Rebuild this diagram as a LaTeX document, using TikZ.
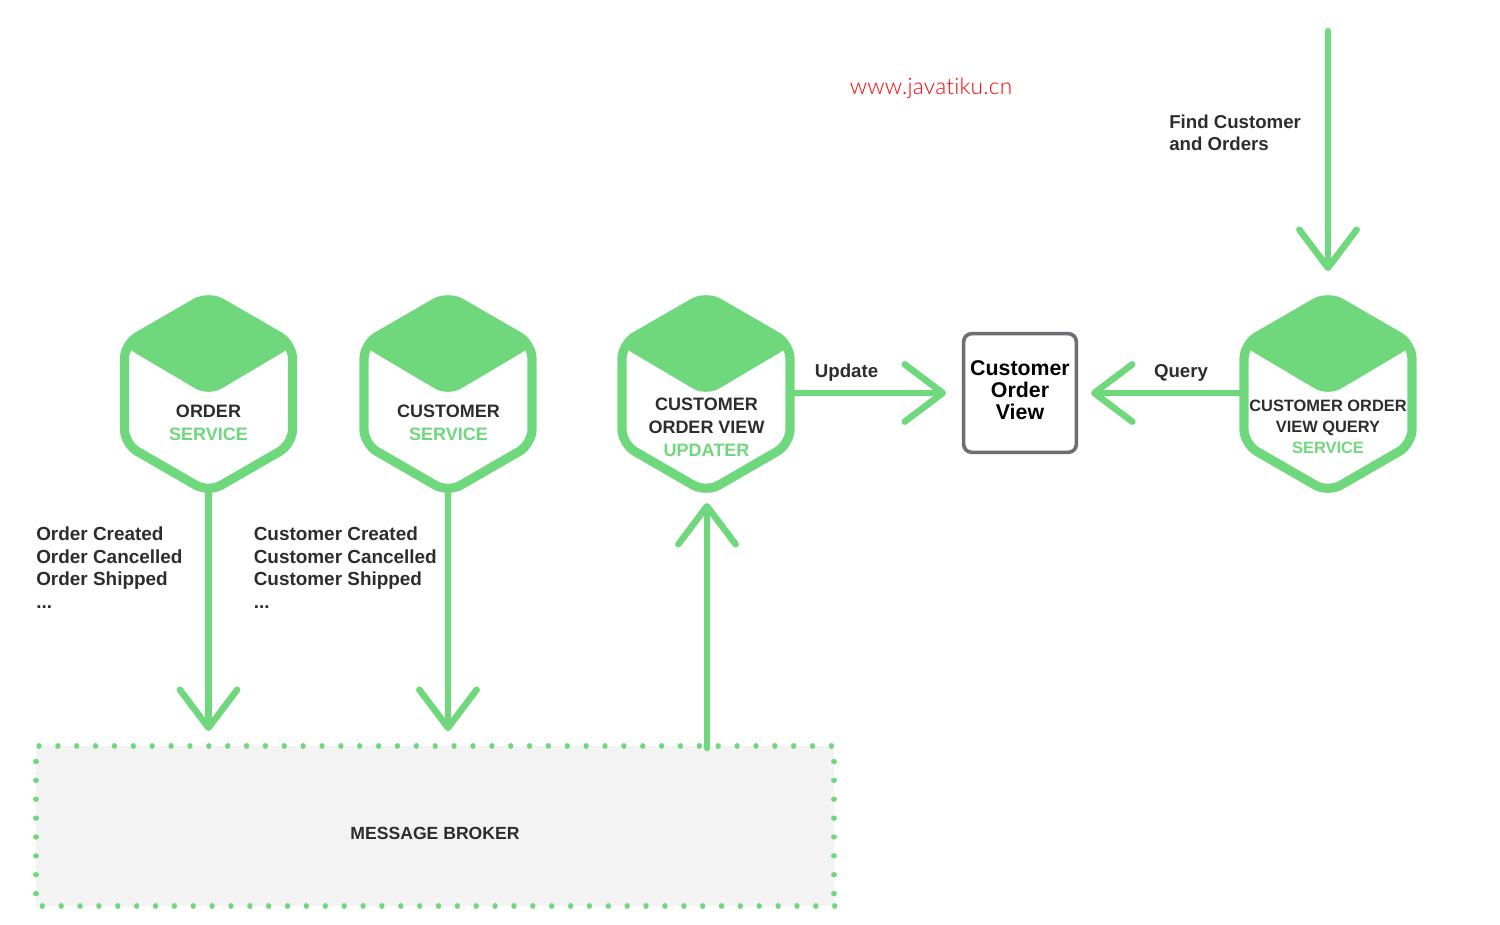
\documentclass[tikz,border=0pt]{standalone}
\usepackage{fontspec}
\setmainfont{Liberation Sans}
\newfontfamily\thinfont[UprightFont=* Light,Ligatures=NoCommon,LetterSpace=1.0]{Lato}
\usetikzlibrary{arrows.meta}
\definecolor{grn}{HTML}{6FD87C}
\definecolor{ink}{HTML}{2D2D2D}
\definecolor{wall}{HTML}{F3F3F3}
\definecolor{edgegray}{HTML}{6D6E71}
\tikzset{
  x=0.75pt,y=-0.75pt,
  flow/.style={draw=grn,line width=4.9pt,line cap=round,line join=round,
    -{Straight Barb[round,length=28.5pt,width=43pt,line width=4.9pt]}},
  hexline/.style={draw=grn,line width=6.9pt,rounded corners=11pt,line join=round},
  hextop/.style={fill=grn,draw=grn,line width=1pt,rounded corners=11pt},
  hexbox/.style={minimum width=126pt,minimum height=148pt,inner sep=0pt,outer sep=0pt},
  dark/.style={font=\bfseries\fontsize{13.5}{17}\selectfont,text=ink,align=center,inner sep=0pt},
  lab/.style={font=\bfseries\fontsize{14}{17}\selectfont,text=ink,align=left,inner sep=0pt,anchor=north west},
  dots/.style={grn,line width=4pt,line cap=round,dash pattern=on 0.01pt off 14.14pt},
}
\newcommand{\cubehex}[3]{%
  \node[hexbox] (#1) at (#2,#3) {};
  \begin{scope}[shift={(#2,#3)}]
    \draw[hexline] (0,-98.5)--(84,-50)--(84,50)--(0,98.5)--(-84,50)--(-84,-50)--cycle;
    \fill[hextop] (0,-101)--(87,-50)--(0,1.5)--(-87,-50)--cycle;
  \end{scope}}
\newcommand{\gr}[1]{\textcolor{grn}{#1}}
\begin{document}
\begin{tikzpicture}
\useasboundingbox (0,0) rectangle (1500,925);
% broker
\fill[wall] (36,746) rectangle (834,906);
\draw[dots] (39,746)--(834,746);
\draw[dots] (834,761.5)--(834,900);
\draw[dots] (42.3,906)--(836,906);
\draw[dots] (36,761.5)--(36,900);
\node[dark,font=\bfseries\fontsize{13.2}{16}\selectfont] (broker) at (435,833.5) {MESSAGE BROKER};
% hexagons
\cubehex{orderhex}{208.5}{394}
\cubehex{custhex}{448}{394}
\cubehex{updhex}{706}{394}
\cubehex{qryhex}{1328}{394}
\node[dark] (t1) at (208.5,423) {ORDER\\[0.3pt]\gr{SERVICE}};
\node[dark] (t2) at (448.5,423) {CUSTOMER\\[0.3pt]\gr{SERVICE}};
\node[dark] (t3) at (706.5,427.5) {CUSTOMER\\[0.1pt]ORDER VIEW\\[0.1pt]\gr{UPDATER}};
\node[dark,font=\bfseries\fontsize{12.3}{15.7}\selectfont] (t4) at (1328,427) {CUSTOMER ORDER\\VIEW QUERY\\\gr{SERVICE}};
% view
\node[draw=edgegray,line width=2.7pt,rounded corners=6pt,minimum width=84.5pt,minimum height=89pt,
  inner sep=0pt] (view) at (1020,393) {};
\node[align=center,inner sep=0pt,font=\bfseries\fontsize{16}{16.5}\selectfont,text=black] (viewtext) at (1020,390) {Customer\\Order\\View};
% free ends
\coordinate (findstart) at (1328,31);
\coordinate (findend) at (1328,271);
\coordinate (e1) at (208.5,731);
\coordinate (e2) at (448,731);
\coordinate (s3) at (707,748);
\coordinate (e3) at (707,503);
\coordinate (a) at (795,393);
\coordinate (b) at (946,393);
\coordinate (c) at (1240,393);
\coordinate (d) at (1091,393);
% connectors
\draw[flow] (orderhex.south) -- (e1);
\draw[flow] (custhex.south) -- (e2);
\draw[flow] (s3) -- (e3);
\draw[flow] (a) -- (b);
\draw[flow] (c) -- (d);
\draw[flow] (findstart) -- (findend);
% labels
\node[lab,font=\bfseries\fontsize{14.2}{17}\selectfont] (l1) at (36,526.5) {Order Created\\Order Cancelled\\Order Shipped\\...};
\node[lab,font=\bfseries\fontsize{14.2}{17}\selectfont] (l2) at (253.5,526.5) {Customer Created\\Customer Cancelled\\Customer Shipped\\...};
\node[lab] (l3) at (1169,114.5) {Find Customer\\and Orders};
\node[lab,anchor=center] (l4) at (846.5,372.5) {Update};
\node[lab,anchor=center] (l5) at (1181,372.5) {Query};
\node[font=\thinfont\fontsize{17}{20}\selectfont,text=red,inner sep=0pt] (mark) at (931,88.5) {www.javatiku.cn};
\end{tikzpicture}
\end{document}
